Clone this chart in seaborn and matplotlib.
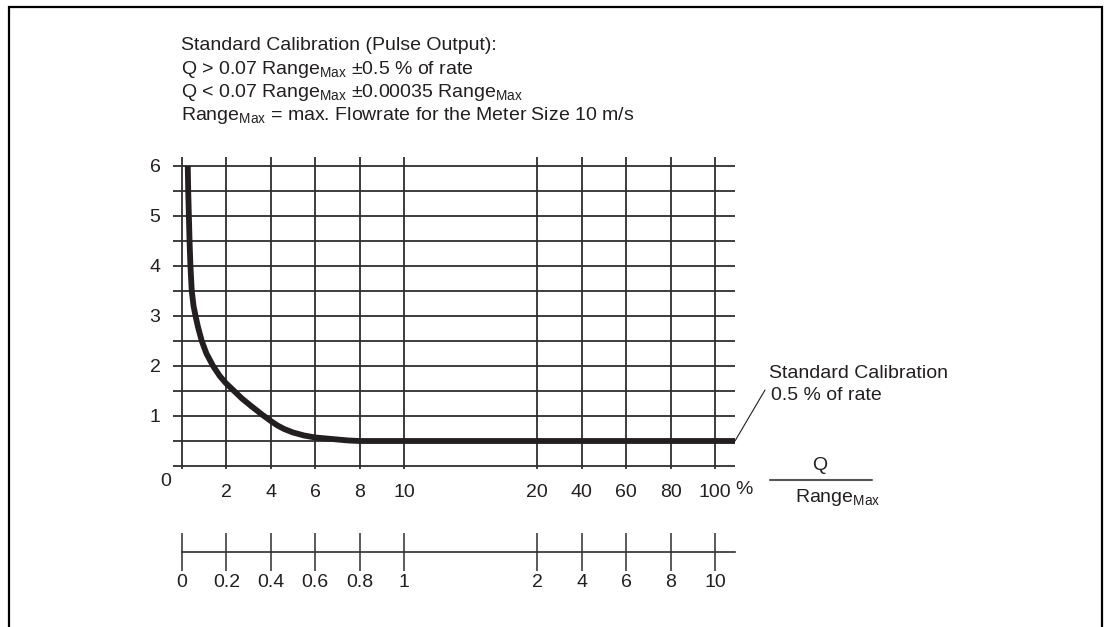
import numpy as np
import pandas as pd
import matplotlib
matplotlib.use("Agg")
import matplotlib.pyplot as plt
import seaborn as sns
from matplotlib.patches import Rectangle
from matplotlib.lines import Line2D

# ---------------- data ----------------
flow_pct = [0.26, 0.28, 0.31, 0.34, 0.38, 0.44, 0.52, 0.61, 0.72, 0.89, 1.10,
            1.40, 1.70, 1.97, 2.30, 2.70, 3.14, 3.60, 4.0, 4.3, 4.6, 5.0, 5.5,
            6.0, 6.5, 7.0, 7.5, 8.0, 109.0]
error_pct = [6.0, 5.5, 5.0, 4.5, 4.0, 3.5, 3.2, 3.0, 2.78, 2.5, 2.25,
             2.0, 1.8, 1.66, 1.52, 1.35, 1.19, 1.03, 0.90, 0.81, 0.74, 0.67, 0.61,
             0.57, 0.55, 0.53, 0.51, 0.50, 0.50]
x_ticks_pct = [0, 2, 4, 6, 8, 10, 20, 40, 60, 80, 100]
x_labels_pct = ["", "2", "4", "6", "8", "10", "20", "40", "60", "80", "100"]
x_labels_ms = ["0", "0.2", "0.4", "0.6", "0.8", "1", "2", "4", "6", "8", "10"]
y_major = [0, 1, 2, 3, 4, 5, 6]
y_labels = ["", "1", "2", "3", "4", "5", "6"]
y_minor = [0.5, 1.5, 2.5, 3.5, 4.5, 5.5]
x_min, x_max = -0.405, 109.0
y_min, y_max = -0.06, 6.18

df = pd.DataFrame({"flow": flow_pct, "error": error_pct})

# ---------------- style ----------------
sns.set_theme(style="white")
plt.rcParams["font.family"] = ["Liberation Sans", "DejaVu Sans"]
plt.rcParams["mathtext.fontset"] = "custom"
plt.rcParams["mathtext.rm"] = "Liberation Sans"
plt.rcParams["mathtext.it"] = "Liberation Sans"
TXT = "#231f20"
GRID = "#2e2e2e"
FS = 14

W, H = 1111, 627
fig = plt.figure(figsize=(W / 100, H / 100), dpi=100)


def fwd(q):
    q = np.asarray(q, dtype=float)
    return np.where(q <= 10, q / 2.0,
                    np.where(q <= 20, 5 + 0.3 * (q - 10), 8 + (q - 20) / 20.0))


def inv(p):
    p = np.asarray(p, dtype=float)
    return np.where(p <= 5, 2.0 * p,
                    np.where(p <= 8, 10 + (p - 5) / 0.3, 20 + (p - 8) * 20.0))


def fx(px):
    return px / W


def fy(py):
    return 1 - py / H


# main axes
ax = fig.add_axes([fx(173), fy(469), (735 - 173) / W, (469 - 157) / H])
ax.set_xscale("function", functions=(fwd, inv))
ax.set_xlim(x_min, x_max)
ax.set_ylim(y_min, y_max)
for s in ax.spines.values():
    s.set_visible(False)
ax.set_facecolor("none")

ax.set_xticks(x_ticks_pct)
ax.set_xticklabels(x_labels_pct)
ax.set_xticks([], minor=True)
ax.set_yticks(y_major)
ax.set_yticklabels(y_labels)
ax.set_yticks(y_minor, minor=True)
ax.tick_params(axis="both", which="both", length=0, colors=TXT, labelsize=FS)
ax.tick_params(axis="x", pad=11)
ax.tick_params(axis="y", pad=9)
ax.grid(True, which="both", color=GRID, lw=1.3)
ax.set_axisbelow(True)

sns.lineplot(data=df, x="flow", y="error", ax=ax, color=TXT, lw=4.2,
             solid_capstyle="butt", sort=False, legend=False, zorder=5)
ax.set_xlabel("")
ax.set_ylabel("")

# origin label and percent sign
fig.text(fx(166), fy(482), "0", ha="center", va="center", fontsize=FS, color=TXT)
fig.text(fx(735), fy(490), "%", ha="left", va="center", fontsize=FS, color=TXT)

# annotation for standard calibration
ax.annotate("", xy=(109.0, 0.5), xycoords="data",
            xytext=(fx(765), fy(390)), textcoords="figure fraction",
            arrowprops=dict(arrowstyle="-", color=TXT, lw=0.8,
                            shrinkA=0, shrinkB=0))
fig.text(fx(769), fy(373), "Standard Calibration", ha="left", va="center",
         fontsize=FS, color=TXT)
fig.text(fx(771), fy(396), "0.5 % of rate", ha="left", va="center",
         fontsize=FS, color=TXT)

# Q / Range_Max label
fig.text(fx(820), fy(466), "Q", ha="center", va="center", fontsize=FS, color=TXT)
fig.add_artist(Line2D([fx(770), fx(872)], [fy(480), fy(480)],
                      color="#555555", lw=1.5, transform=fig.transFigure))
fig.text(fx(795), fy(497), r"Range$_{\mathrm{Max}}$", ha="left", va="center",
         fontsize=FS, color=TXT)

# secondary (m/s) axis
ax2 = fig.add_axes([fx(173), fy(552), (735 - 173) / W, 0.0005])
ax2.set_xscale("function", functions=(fwd, inv))
ax2.set_xlim(x_min, x_max)
ax2.set_facecolor("none")
for k in ["top", "left", "right"]:
    ax2.spines[k].set_visible(False)
ax2.spines["bottom"].set_bounds(0, x_max)
ax2.spines["bottom"].set_color(GRID)
ax2.spines["bottom"].set_linewidth(1.2)
ax2.set_yticks([])
ax2.set_xticks(x_ticks_pct)
ax2.set_xticklabels(x_labels_ms)
ax2.set_xticks([], minor=True)
ax2.tick_params(axis="x", bottom=True, direction="inout", length=27, width=1.1,
                color=GRID, labelcolor=TXT, labelsize=FS, pad=2)

# header text
header = [
    "Standard Calibration (Pulse Output):",
    r"Q > 0.07 Range$_{\mathrm{Max}}$ $\pm$0.5 % of rate",
    r"Q < 0.07 Range$_{\mathrm{Max}}$ $\pm$0.00035 Range$_{\mathrm{Max}}$",
    r"Range$_{\mathrm{Max}}$ = max. Flowrate for the Meter Size 10 m/s",
]
for i, line in enumerate(header):
    fig.text(fx(181), fy(46 + i * 23.3), line, ha="left", va="center",
             fontsize=FS, color=TXT)

# outer frame
fig.add_artist(Rectangle((fx(9), -0.1), fx(1102) - fx(9), fy(7) + 0.1,
                         transform=fig.transFigure, fill=False,
                         edgecolor="black", lw=1.6))

fig.savefig("out.png", dpi=100)
